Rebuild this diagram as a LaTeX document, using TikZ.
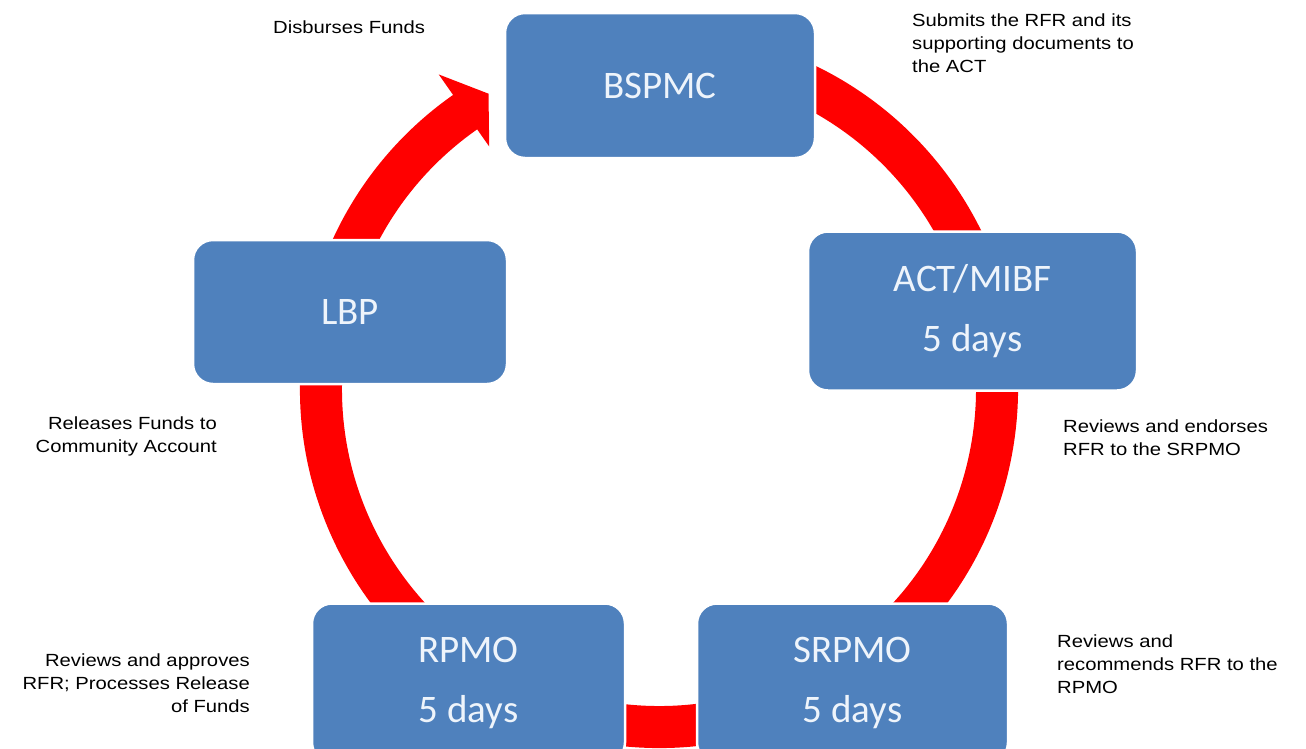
\documentclass[tikz,border=0pt]{standalone}
\usepackage{fontspec}
\usetikzlibrary{calc}
\newfontfamily\labfont[FakeStretch=1.15]{Liberation Sans}
\newfontfamily\boxfont{Carlito}
\definecolor{stageblue}{HTML}{4F81BD}
\definecolor{stagetext}{HTML}{EEF4FB}
\definecolor{cyclered}{HTML}{FF0000}
\tikzset{
  stage/.style={rectangle, rounded corners=20pt, fill=stageblue, draw=white,
    line width=2.5pt, text=stagetext, inner sep=0pt, align=center,
    font={\boxfont\fontsize{39}{60}\selectfont}},
  note/.style={inner sep=0pt, text=black,
    font={\labfont\fontsize{17.6}{23}\selectfont}},
}
\begin{document}
\begin{tikzpicture}[x=1pt,y=1pt]
  \useasboundingbox (0,0) rectangle (1306,-748);
  \clip (0,0) rectangle (1306,-748);
  \fill[white] (0,0) rectangle (1306,-748);

  % cycle ring with arrow head pointing at the first stage
  \coordinate (c) at (659,-389);
  \fill[cyclered]
    ($(c)+(80:359)$) arc[start angle=80, end angle=-235, radius=359]
    -- ($(c)+(-235:384)$) -- ($(c)+(-240:341)$) -- ($(c)+(-235:296)$)
    -- ($(c)+(-235:317)$) arc[start angle=-235, end angle=80, radius=317]
    -- cycle;

  % stages
  \node[stage, minimum width=310pt, minimum height=145pt] (bspmc) at (660,-85.5) {BSPMC};
  \node[stage, minimum width=329pt, minimum height=159pt] (act) at (972.5,-311) {ACT/MIBF\\5 days};
  \node[stage, minimum width=311pt, minimum height=159pt] (srpmo) at (852.5,-683) {SRPMO\\5 days};
  \node[stage, minimum width=313pt, minimum height=159pt] (rpmo) at (468.5,-683) {RPMO\\5 days};
  \node[stage, minimum width=314pt, minimum height=144pt] (lbp) at (350,-312) {LBP};

  % descriptions of each step (anchored on the baseline of the last line)
  \node[note, anchor=base west, align=left] (n1) at (273,-33) {Disburses Funds};
  \node[note, anchor=base west, align=left] (n2) at (912,-72) {Submits the RFR and its\\supporting documents to\\the ACT};
  \node[note, anchor=base west, align=left] (n3) at (1063,-455) {Reviews and endorses\\RFR to the SRPMO};
  \node[note, anchor=base west, align=left] (n4) at (1057,-693) {Reviews and\\recommends RFR to the\\RPMO};
  \node[note, anchor=base east, align=right] (n5) at (217,-452) {Releases Funds to\\Community Account};
  \node[note, anchor=base east, align=right] (n6) at (250,-712) {Reviews and approves\\RFR; Processes Release\\of Funds};
\end{tikzpicture}
\end{document}
